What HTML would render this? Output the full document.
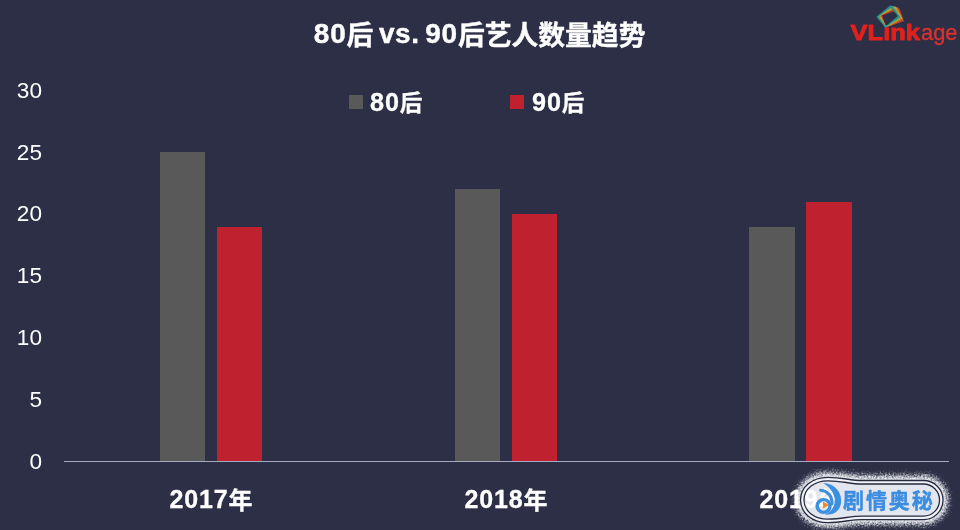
<!DOCTYPE html>
<html lang="zh">
<head>
<meta charset="utf-8">
<title>80后 vs. 90后艺人数量趋势</title>
<style>
html,body{margin:0;padding:0;}
body{width:960px;height:530px;overflow:hidden;background:#2c2f45;position:relative;
  font-family:"Liberation Sans","Noto Sans CJK SC",sans-serif;color:#fff;}
.abs{position:absolute;white-space:nowrap;line-height:1;}
.title{-webkit-text-stroke:0.4px #fff;left:313.8px;text-align:left;top:21.5px;font-size:26.8px;font-weight:bold;height:28px;line-height:28px;}
.title .l{font-size:28px;letter-spacing:0.8px;position:relative;top:-1.6px;}
.title .vs{word-spacing:-2.6px;letter-spacing:0.5px !important;}
.ylab{left:0;width:42px;text-align:right;font-size:22.6px;height:24px;line-height:24px;}
.bar{position:absolute;}
.g{background:#595959;}
.r{background:#c0212e;}
.axis{position:absolute;left:63.7px;top:460.6px;width:885px;height:1.9px;background:#a7aac1;}
.xlab{-webkit-text-stroke:0.3px #fff;width:120px;text-align:center;font-size:24px;font-weight:bold;top:487.3px;height:26px;line-height:26px;}
.xlab .l{font-size:25px;letter-spacing:0.85px;position:relative;top:-0.9px;}
.leg{-webkit-text-stroke:0.3px #fff;font-size:22.6px;font-weight:bold;height:26px;line-height:26px;top:88.8px;}
.leg .l{font-size:25.2px;letter-spacing:0.9px;position:relative;top:-0.3px;}
.sq{position:absolute;width:14px;height:14px;top:95px;}
</style>
</head>
<body>
<div class="abs title"><span class="l">80</span>后<span class="l vs"> vs. </span><span class="l">90</span>后艺人数量趋势</div>

<div class="abs ylab" style="top:78.7px">30</div>
<div class="abs ylab" style="top:140.5px">25</div>
<div class="abs ylab" style="top:202.3px">20</div>
<div class="abs ylab" style="top:264.1px">15</div>
<div class="abs ylab" style="top:325.9px">10</div>
<div class="abs ylab" style="top:387.7px">5</div>
<div class="abs ylab" style="top:449.5px">0</div>

<div class="sq g" style="left:349px"></div>
<div class="abs leg" style="left:370px"><span class="l">80</span>后</div>
<div class="sq r" style="left:510px"></div>
<div class="abs leg" style="left:532px"><span class="l">90</span>后</div>

<div class="bar g" style="left:159.8px;width:45.4px;top:152.3px;height:309.5px"></div>
<div class="bar r" style="left:216.8px;width:45.5px;top:226.5px;height:235.3px"></div>
<div class="bar g" style="left:454.9px;width:45.3px;top:189.4px;height:272.4px"></div>
<div class="bar r" style="left:511.7px;width:45.5px;top:214.1px;height:247.7px"></div>
<div class="bar g" style="left:749.4px;width:45.7px;top:226.5px;height:235.3px"></div>
<div class="bar r" style="left:806.2px;width:46px;top:201.7px;height:260.1px"></div>
<div class="axis"></div>

<svg class="abs" style="left:0;top:0" width="960" height="530" viewBox="0 0 960 530">
  <defs>
    <filter id="fz" x="-20%" y="-50%" width="140%" height="200%">
      <feTurbulence type="fractalNoise" baseFrequency="0.55" numOctaves="2" seed="7" result="n"/>
      <feGaussianBlur in="SourceGraphic" stdDeviation="2.6" result="b"/>
      <feDisplacementMap in="b" in2="n" scale="9" xChannelSelector="R" yChannelSelector="G" result="d"/>
      <feGaussianBlur in="d" stdDeviation="0.55"/>
    </filter>
  </defs>
    <path d="M862 480.5C850 480.5 842 477.3 828 477.3C812 477.3 800.5 487 800.5 500C800.5 513 812 522.6 828 522.6C842 522.6 850 519.6 862 519.6L923.5 519.6A19.55 19.55 0 0 0 923.5 480.5Z" fill="#f6f7fb" stroke="#f6f7fb" stroke-width="9.5" stroke-linejoin="round" filter="url(#fz)" opacity="0.95"/>
  <path d="M862 480.5C850 480.5 842 477.3 828 477.3C812 477.3 800.5 487 800.5 500C800.5 513 812 522.6 828 522.6C842 522.6 850 519.6 862 519.6L923.5 519.6A19.55 19.55 0 0 0 923.5 480.5Z" fill="#f1f2f8"/>
  <path d="M862 484C850 484 842 480.8 828 480.8C814 480.8 804 489 804 500C804 511 814 519.1 828 519.1C842 519.1 850 516.1 862 516.1L923.5 516.1A16.05 16.05 0 0 0 923.5 484Z" fill="#e4e6ee"/>
</svg>
<div class="abs xlab" style="left:151px"><span class="l">2017</span>年</div>
<div class="abs xlab" style="left:446px"><span class="l">2018</span>年</div>
<div class="abs xlab" style="left:741px;clip-path:inset(0 23px 0 0)"><span class="l">2019</span>年</div>

<svg class="abs" style="left:0;top:0" width="960" height="530" viewBox="0 0 960 530">
  <!-- VLinkage logo -->
  <g id="vlogo">
    <g fill="none" stroke-width="1.1" stroke-linejoin="miter" opacity="0.88" transform="translate(885.6 27)">
      <rect x="0" y="-12.6" width="18.8" height="12.6" stroke="#c93a2a" transform="rotate(-19)"/>
      <rect x="0" y="-13" width="18.4" height="13" stroke="#e77a22" transform="rotate(-23.5)"/>
      <rect x="0" y="-13" width="18" height="13" stroke="#e9b328" transform="rotate(-28)"/>
      <rect x="0" y="-13" width="17.6" height="13" stroke="#b7c63c" transform="rotate(-32)"/>
      <rect x="0" y="-13" width="17.3" height="13" stroke="#3aa79a" transform="rotate(-36)"/>
      <rect x="0" y="-13" width="17" height="13" stroke="#2b9c9e" transform="rotate(-40)"/>
    </g>
    <text x="850.6" y="40.3" font-family="'Liberation Sans',sans-serif" font-size="22.5" font-weight="bold" fill="#e0211d" stroke="#e0211d" stroke-width="0.9" stroke-linejoin="round" textLength="69.4" lengthAdjust="spacingAndGlyphs">VLınk</text>
    <text x="921" y="40.3" font-family="'Liberation Sans',sans-serif" font-size="22.5" fill="#d9322f" stroke="#d9322f" stroke-width="0.35" textLength="36.5" lengthAdjust="spacingAndGlyphs">age</text>
  </g>
  <!-- watermark -->
  <g id="wm">
    <path d="M862 480.5C850 480.5 842 477.3 828 477.3C812 477.3 800.5 487 800.5 500C800.5 513 812 522.6 828 522.6C842 522.6 850 519.6 862 519.6L923.5 519.6A19.55 19.55 0 0 0 923.5 480.5Z" fill="none" stroke="#262a3e" stroke-width="1.3"/>
    <path d="M862 484C850 484 842 480.8 828 480.8C814 480.8 804 489 804 500C804 511 814 519.1 828 519.1C842 519.1 850 516.1 862 516.1L923.5 516.1A16.05 16.05 0 0 0 923.5 484Z" fill="none" stroke="#262a3e" stroke-width="1.3"/>
    <!-- swirl -->
    <path d="M823 483C836 483.5 843.3 494 840.6 505C839 511.5 833 515.3 825 514.6C832 511.5 835.8 505 834.6 498C833.4 491.5 829 486.5 823 483Z" fill="#3d8fe0"/>
    <path d="M820.6 490.2C827.5 490.8 832.3 496 832 504" fill="none" stroke="#3d8fe0" stroke-width="3.1" stroke-linecap="round"/>
    <circle cx="823.6" cy="506" r="6.4" fill="none" stroke="#3d8fe0" stroke-width="3.4"/>
    <path d="M823 501.6L823 508.4L829 505Z" fill="#f08a24"/>
    <text x="843" y="508.3" font-family="'Liberation Sans','Noto Sans CJK SC',sans-serif" font-size="21" font-weight="bold" fill="#3b8de0" stroke="#3b8de0" stroke-width="0.4" letter-spacing="1.9">剧情奥秘</text>
  </g>
</svg>

</body>
</html>
